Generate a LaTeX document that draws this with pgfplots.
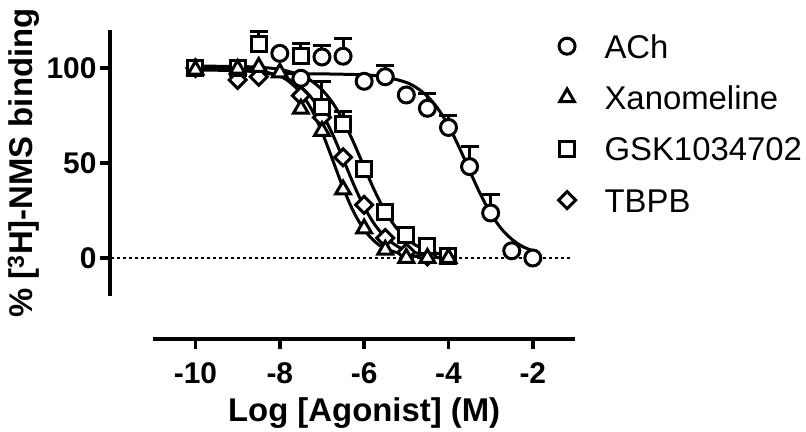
\documentclass[border=0pt]{standalone}
\usepackage{fontspec}
\setmainfont{Liberation Sans}
\usepackage{pgfplots}
\pgfplotsset{compat=1.18}
\begin{document}
\begin{tikzpicture}
\begin{axis}[
  name=ax,
  scale only axis,
  width=421.7bp, height=266bp,
  xmin=-11, xmax=-1, ymin=-20, ymax=120,
  clip=false,
  axis lines=left,
  axis x line shift=43bp,
  axis y line shift=43.3bp,
  axis line style={line width=3.5bp, -},
  tick style={line width=3.5bp, black},
  tick align=outside,
  major tick length=10bp,
  xtick={-10,-8,-6,-4,-2}, xticklabels={-10,-8,-6,-4,-2},
  ytick={0,50,100}, yticklabels={0,50,100},
  minor tick num=0,
  ticklabel style={font=\fontsize{30}{30}\bfseries\selectfont},
  xticklabel style={yshift=-10bp},
  xlabel={Log [Agonist] (M)},
  ylabel={\% [\textsuperscript{3}H]-NMS binding},
  label style={font=\fontsize{33}{33}\bfseries\selectfont},
  xlabel style={at={(rel axis cs:0.5,0)}, anchor=base, yshift=-125.7bp},
  legend image code/.code={\draw[mark repeat=2,mark phase=2,#1] plot coordinates {(0bp,0bp) (9bp,0bp) (18bp,0bp)};},
  legend style={at={(axis cs:-1.394,117.9)}, anchor=north west, draw=none, fill=none,
    inner sep=0pt, row sep=27.3bp, column sep=29bp,
    font=\fontsize{33}{33}\selectfont,
    nodes={inner sep=0pt, text height=24bp, text depth=0bp}},
  legend cell align=left,
]
\addlegendimage{only marks, mark=*, mark size=8bp, mark options={fill=white, draw=black, line width=3bp}}
\addlegendentry{ACh}
\addlegendimage{only marks, mark=triangle*, mark size=8.5bp, mark options={fill=white, draw=black, line width=3bp}}
\addlegendentry{Xanomeline}
\addlegendimage{only marks, mark=square*, mark size=7.5bp, mark options={fill=white, draw=black, line width=3bp}}
\addlegendentry{GSK1034702}
\addlegendimage{only marks, mark=square*, mark size=6bp, mark options={fill=white, draw=black, line width=3bp, rotate=45}}
\addlegendentry{TBPB}

% zero reference line
\addplot[forget plot, black, line width=2.5bp, dash pattern=on 2.5bp off 3.5bp] coordinates {(-12.0,0) (-1.1,0)};

% fitted curves
\addplot[forget plot, black, line width=3bp, smooth] coordinates {
(-8,97.0) (-7,96.9) (-6,96.4) (-5.5,95.3) (-5,92.4) (-4.75,89.5) (-4.5,85.1) (-4.25,78.6) (-4,69.6) (-3.75,58.4) (-3.5,46.0) (-3.25,33.9) (-3,23.5) (-2.75,15.5) (-2.5,9.9) (-2.25,6.1) (-2,3.8)};
\addplot[forget plot, black, line width=3bp, smooth] coordinates {
(-10,99.96) (-9,99.6) (-8.5,98.7) (-8,95.7) (-7.75,92.3) (-7.5,86.8) (-7.25,78.3) (-7,66.3) (-6.75,51.8) (-6.5,37.0) (-6.25,24.3) (-6,14.9) (-5.75,8.7) (-5.5,5.0) (-5,1.5) (-4.5,0.47) (-4,0.14)};
\addplot[forget plot, black, line width=3bp, smooth] coordinates {
(-10,101.0) (-9,100.8) (-8.5,100.4) (-8,99.3) (-7.5,96.2) (-7.25,93.2) (-7,88.6) (-6.75,81.8) (-6.5,72.5) (-6.25,60.8) (-6,47.9) (-5.75,35.3) (-5.5,24.5) (-5.25,16.2) (-5,10.3) (-4.75,6.4) (-4.5,3.9) (-4.25,2.37) (-4,1.42)};
\addplot[forget plot, black, line width=3bp, smooth] coordinates {
(-10,99.0) (-9,98.6) (-8.5,97.9) (-8,95.8) (-7.75,93.6) (-7.5,90.0) (-7.25,84.3) (-7,76.1) (-6.75,65.2) (-6.5,52.2) (-6.25,38.8) (-6,26.9) (-5.75,17.6) (-5.5,11.0) (-5.25,6.7) (-5,4.0) (-4.5,1.37)};

% upward error bars (SEM)
\addplot[forget plot, black, only marks, mark=none,
  error bars/.cd, y dir=plus, y explicit, error mark=|,
  error bar style={line width=3bp, draw=black},
  error mark options={line width=3bp, mark size=9bp, draw=black}]
  coordinates {(-7,105.8) +- (0,6.3) (-6.5,106.2) +- (0,9.4) (-5.5,95.4) +- (0,5.8) (-4.5,78.8) +- (0,7.9) (-4,68.7) +- (0,6.5) (-3.5,48.1) +- (0,10.5) (-3,23.7) +- (0,9.5)};
\addplot[forget plot, black, only marks, mark=none,
  error bars/.cd, y dir=plus, y explicit, error mark=|,
  error bar style={line width=3bp, draw=black},
  error mark options={line width=3bp, mark size=9bp, draw=black}]
  coordinates {(-8.5,112.8) +- (0,6.3) (-7.5,106.5) +- (0,6.5) (-7,79.6) +- (0,13.2) (-6.5,70.5) +- (0,6.5)};

% data points
\addplot[forget plot, only marks, mark=square*, mark size=6bp, mark options={fill=white, draw=black, line width=3bp, rotate=45}] coordinates {
(-10,100) (-9,93.7) (-8.5,95.4) (-7.5,85.5) (-7,74) (-6.5,53) (-6,28) (-5.5,10.5) (-5,3) (-4.5,0.8)};
\addplot[forget plot, only marks, mark=square*, mark size=7.5bp, mark options={fill=white, draw=black, line width=3bp}] coordinates {
(-10,100) (-9,100) (-8.5,112.8) (-7.5,106.5) (-7,79.6) (-6.5,70.5) (-6,47) (-5.5,24.4) (-5,12.1) (-4.5,6.3) (-4,1.3)};
\addplot[forget plot, only marks, mark=triangle*, mark size=8.5bp, mark options={fill=white, draw=black, line width=3bp}] coordinates {
(-10,99) (-9,99.5) (-8.5,100.5) (-8,97.5) (-7.5,78.5) (-7,66.8) (-6.5,36) (-6,15.5) (-5.5,4.3) (-5,0) (-4.5,0) (-4,0)};
\addplot[forget plot, only marks, mark=*, mark size=8bp, mark options={fill=white, draw=black, line width=3bp}] coordinates {
(-8,107.7) (-7.5,94.6) (-7,105.8) (-6.5,106.2) (-6,93.0) (-5.5,95.4) (-5,85.8) (-4.5,78.8) (-4,68.7) (-3.5,48.1) (-3,23.7) (-2.5,3.8) (-2,0)};
\end{axis}
\pgfresetboundingbox
\path (ax.south west) ++(-153.3bp,-136bp) rectangle ++(806bp,432bp);
\end{tikzpicture}
\end{document}
